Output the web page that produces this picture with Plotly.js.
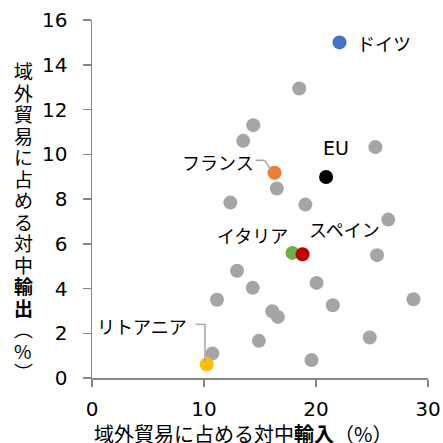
<!DOCTYPE html>
<html>
<head>
<meta charset="utf-8">
<script src="https://cdn.plot.ly/plotly-3.0.1.min.js"></script>
<style>html,body{margin:0;padding:0;background:#fff;}#chart{width:443px;height:443px;}</style>
</head>
<body>
<div id="chart"></div>
<script>
// Other EU member states (grey): share of China in extra-EU imports (x) and exports (y), %
var otherImports = [18.5, 14.4, 13.5, 25.3, 16.5, 12.35, 19.05, 26.45, 25.45, 12.95, 14.35, 20.05, 11.16, 21.5, 28.7, 16.1, 16.6, 14.9, 24.8, 19.6, 10.75];
var otherExports = [12.94, 11.3, 10.6, 10.32, 8.47, 7.84, 7.75, 7.08, 5.49, 4.79, 4.03, 4.25, 3.5, 3.25, 3.52, 2.98, 2.73, 1.66, 1.81, 0.8, 1.1];

// Highlighted economies
var hlNames   = ['ドイツ', 'EU', 'フランス', 'イタリア', 'スペイン', 'リトアニア'];
var hlImports = [22.1, 20.9, 16.3, 17.9, 18.8, 10.24];
var hlExports = [15.0, 8.98, 9.17, 5.59, 5.53, 0.61];
var hlColors  = ['#4472C4', '#000000', '#ED7D31', '#70AD47', '#C00000', '#FFC000'];
// label offsets (pixels) relative to each point
var hlLabelDX = [44, 10, -57, -40, 42, -65];
var hlLabelDY = [-1, 29, 11, 18, 25, 38];

var xTicks = [0, 10, 20, 30];
var yTicks = [0, 2, 4, 6, 8, 10, 12, 14, 16];
var xTitleParts = ['域外貿易に占める対中', '<b>輸入</b>', '（%）'];
var yTitleChars = ['域','外','貿','易','に','占','め','る','対','中','<b>輸</b>','<b>出</b>','︵','%','︶'];

var FONT = 'DejaVu Sans, "Noto Sans CJK JP", sans-serif';
var JFONT = '"Noto Sans CJK JP", "DejaVu Sans", sans-serif';
var AXC = '#878787';

var traces = [
  {type:'scatter', mode:'markers', x: otherImports, y: otherExports,
   marker:{size:14, color:'#A5A5A5'}, hoverinfo:'skip', cliponaxis:false},
  {type:'scatter', mode:'markers', x: hlImports, y: hlExports, text: hlNames,
   marker:{size:14, color: hlColors}, cliponaxis:false}
];

var annotations = [];
for (var i = 0; i < hlNames.length; i++) {
  annotations.push({x: hlImports[i], y: hlExports[i], xref:'x', yref:'y', text: hlNames[i],
    showarrow:false, xanchor:'center', yanchor:'middle', xshift: hlLabelDX[i], yshift: hlLabelDY[i],
    font:{family: hlNames[i] === 'EU' ? FONT : JFONT, size: hlNames[i] === 'EU' ? 19 : 18, color:'#000'}});
}
// x axis title
annotations.push({xref:'paper', yref:'paper', x:0.5, y:0, xanchor:'center', yanchor:'middle',
  xshift:-17, yshift:-55, showarrow:false, text: xTitleParts.join(''),
  font:{family: JFONT, size:20, color:'#000'}});
// y axis title, stacked vertically
for (var j = 0; j < yTitleChars.length; j++) {
  annotations.push({xref:'paper', yref:'paper', x:0, y:1, xanchor:'center', yanchor:'middle',
    xshift:-69, yshift: -(50.5 + j*21.5), showarrow:false, text: yTitleChars[j],
    font:{family: JFONT, size:19, color:'#000'}});
}

// leader lines anchored at points (France idx 2, Lithuania idx 5), pixel offsets
var lineStyle = {color:'#A5A5A5', width:1.5};
function leader(idx, segs) {
  return segs.map(function(s){
    return {type:'line', xref:'x', yref:'y', xsizemode:'pixel', ysizemode:'pixel',
      xanchor: hlImports[idx], yanchor: hlExports[idx],
      x0:s[0], y0:s[1], x1:s[2], y1:s[3], line: lineStyle, layer:'above'};
  });
}
var shapes = [].concat(
  leader(2, [[-19, 12.5, -10, 12.5], [-10, 12.5, -2, 1]]),
  leader(5, [[-11, 40, -1.7, 40], [-1.7, 40, -1.7, 2]])
);

var layout = {
  width:443, height:443,
  margin:{l:92, r:15, t:20, b:65},
  paper_bgcolor:'#fff', plot_bgcolor:'#fff',
  showlegend:false,
  font:{family: FONT, color:'#000'},
  xaxis:{range:[0,30], tickvals:xTicks, ticktext:xTicks.map(String), showgrid:false, zeroline:false,
    showline:true, linecolor:AXC, linewidth:1.5, ticks:'outside', ticklen:7, tickwidth:1.5, tickcolor:AXC,
    tickfont:{family:FONT, size:20, color:'#000'}, ticklabelstandoff:5, fixedrange:true},
  yaxis:{range:[0,16], tickvals:yTicks, ticktext:yTicks.map(String), showgrid:false, zeroline:false,
    showline:true, linecolor:AXC, linewidth:1.5, ticks:'outside', ticklen:8, tickwidth:1.5, tickcolor:AXC,
    tickfont:{family:FONT, size:20, color:'#000'}, ticklabelstandoff:11, fixedrange:true},
  annotations: annotations,
  shapes: shapes
};

Plotly.newPlot('chart', traces, layout, {staticPlot:true, displayModeBar:false});
</script>
</body>
</html>
